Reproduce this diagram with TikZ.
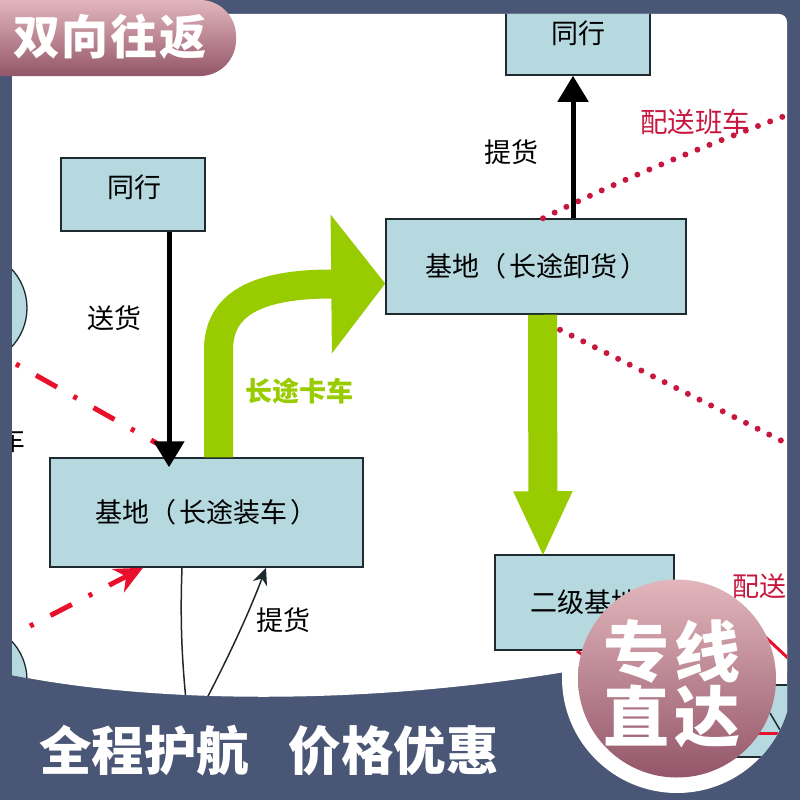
\documentclass[tikz,border=0pt]{standalone}
\usepackage{fontspec}
\setmainfont{Noto Sans CJK SC}
\usetikzlibrary{arrows.meta}
\definecolor{slatebg}{HTML}{4A5675}
\definecolor{boxfill}{HTML}{B6D9E0}
\definecolor{boxline}{HTML}{1E2A30}
\definecolor{truckgreen}{HTML}{99CC00}
\definecolor{routered}{HTML}{E8102A}
\definecolor{dotred}{HTML}{C8173F}
\definecolor{badgetop}{HTML}{E2B6BC}
\definecolor{badgebottom}{HTML}{94566A}

\begin{document}
\begin{tikzpicture}[x=1pt,y=-1pt,>=stealth,
    base node/.style={draw=boxline,fill=boxfill,line width=1.5pt,inner sep=0pt,font=\fontsize{27}{30}\selectfont},
    tag node/.style={inner sep=0pt,font=\fontsize{27}{30}\selectfont},
    truck arrow/.style={truckgreen,line width=29pt},
    goods arrow/.style={black,line width=5pt,-{Triangle[length=26pt,width=30pt]}},
    thin line/.style={boxline,line width=1.5pt},
    dash route/.style={routered,line width=5pt,dash pattern=on 4pt off 19pt on 24pt off 19pt},
    dot route/.style={dotred,line width=6pt,line cap=round,dash pattern=on 0pt off 13pt},
    big white/.style={inner sep=0pt,text=white,font=\bfseries\fontsize{52.5}{56}\selectfont}]

    \useasboundingbox (0,0) rectangle (800,800);
    \fill[slatebg] (0,0) rectangle (800,800);

    % white panel and the ring round the badge
    \fill[white] (12,14) [rounded corners=8pt] -- (787,14) [sharp corners] -- (787,672) -- (565,672)
        .. controls (360,706) and (150,703) .. (12,675) -- cycle;
    \begin{scope}
        \clip (0,0) rectangle (787,800);
        \fill[white] (677,678) circle[radius=115];
    \end{scope}

    % part of the chart that stays inside the ring
    \begin{scope}
        \clip (0,0) rectangle (787,800);
        \clip (677,678) circle[radius=115];
        \node[base node,minimum width=130pt,minimum height=72pt] (baseFar) at (765,721) {};
        \draw[thin line] (770,713) -- (780,730);
        \draw[routered,line width=3pt] (755,733) -- (778,733);
    \end{scope}

    \begin{scope}
        \clip (12,14) [rounded corners=8pt] -- (787,14) [sharp corners] -- (787,672) -- (565,672)
            .. controls (360,706) and (150,703) .. (12,675) -- cycle;

        \draw[boxline,fill=boxfill,line width=1.3pt] (-30,308) circle[radius=57];
        \draw[boxline,fill=boxfill,line width=1.3pt] (-30,680) circle[radius=57];
        \node[tag node] (cutCar) at (12,440) {车};

        \node[base node,minimum width=144pt,minimum height=73pt] (peerLeft) at (133,194.5) {};
        \node[tag node] (peerLeftText) at (134,187) {同行};
        \node[base node,minimum width=144pt,minimum height=83pt] (peerTop) at (578,33.5) {同行};
        \node[base node,minimum width=300pt,minimum height=95pt] (baseUnload) at (536,266.5) {基地（\hspace{3pt}长途卸货\hspace{3pt}）\hspace{10pt}};
        \node[base node,minimum width=313pt,minimum height=109pt] (baseLoad) at (206.5,512.5) {基地（\hspace{3pt}长途装车\hspace{3pt}）\hspace{15pt}};
        \node[base node,minimum width=179pt,minimum height=95pt] (baseTwo) at (584.5,602.5) {二级基地};

        \coordinate (dashStartA) at (16,364);
        \coordinate (dashStartB) at (30,626);
        \coordinate (dotEndA) at (790,114);
        \coordinate (dotEndB) at (790,445);
        \coordinate (thinEnd) at (186,700);
        \coordinate (pickStart) at (206,700);

        % red routes
        \draw[dash route] (dashStartA) -- ([xshift=-41pt,yshift=9pt]baseLoad.north);
        \draw[dash route,-{Stealth[length=28pt,width=26pt]}] (dashStartB) -- ([xshift=-63.5pt]baseLoad.south);
        \draw[dot route] ([xshift=7pt]baseUnload.north) .. controls (630,175) and (720,140) .. (dotEndA);
        \draw[dot route] ([xshift=24pt,yshift=-15pt]baseUnload.south) -- (dotEndB);
        \draw[routered,line width=3pt] (577,651) -- (590,660);
        \draw[routered,line width=3pt] (760,632) -- (790,660);

        % black goods arrows
        \draw[goods arrow] ([xshift=36pt]peerLeft.south) -- ([xshift=-37.5pt,yshift=-10pt]baseLoad.north);
        \draw[goods arrow] ([xshift=37pt]baseUnload.north) -- (peerTop.south -| 573,0);
        \draw[thin line] ([xshift=-24.5pt]baseLoad.south) .. controls (180,620) and (182,660) .. (thinEnd);
        \draw[thin line,-{Stealth[length=17pt,width=15pt]}] (pickStart) .. controls (232,650) and (250,610) .. ([xshift=59.5pt]baseLoad.south);

        % green truck arrows
        \draw[truck arrow,-{Triangle[length=54pt,width=136pt]}] ([xshift=12pt]baseLoad.north) -- (218.5,350)
            .. controls (218.5,305) and (255,284) .. (332,284) -- ([yshift=-17pt]baseUnload.west);
        \draw[truck arrow,-{Triangle[length=66pt,width=54pt]}] ([xshift=6.5pt]baseUnload.south) -- ([xshift=-41.5pt,yshift=-3pt]baseTwo.north);

        \node[tag node] (sendTag) at (114.5,318) {送货};
        \node[tag node] (pickTagTop) at (511,152) {提货};
        \node[tag node] (pickTagLow) at (283.5,620) {提货};
        \node[tag node,text=truckgreen,font=\bfseries\fontsize{27}{30}\selectfont] (truckTag) at (299,391) {长途卡车};
        \node[tag node,text=dotred,font=\fontsize{27.5}{30}\selectfont] (busTag) at (695,122) {配送班车};
        \node[tag node,text=dotred,anchor=west] (busTagCut) at (732,586) {配送};
    \end{scope}

    % labels on top of the chart
    \shade[top color=badgetop,bottom color=badgebottom] (0,0) [rounded corners=36pt] -- (236,0) -- (236,76) [sharp corners] -- (0,76) -- cycle;
    \node[big white,font=\bfseries\fontsize{47}{50}\selectfont] (titleTag) at (110,37) {双\hspace{2pt}向\hspace{2pt}往\hspace{2pt}返};
    \node[big white] (bottomTag) at (269,751) {全程护航\hspace{40pt}价格优惠};
    \node[circle,minimum size=198pt,inner sep=0pt,top color=badgetop,bottom color=badgebottom] (lineBadge) at (677,678.5) {};
    \node[big white,align=center,font=\bfseries\fontsize{66}{65}\selectfont] (lineBadgeText) at (672,684) {专\hspace{5pt}线\\直\hspace{5pt}达};
\end{tikzpicture}
\end{document}
